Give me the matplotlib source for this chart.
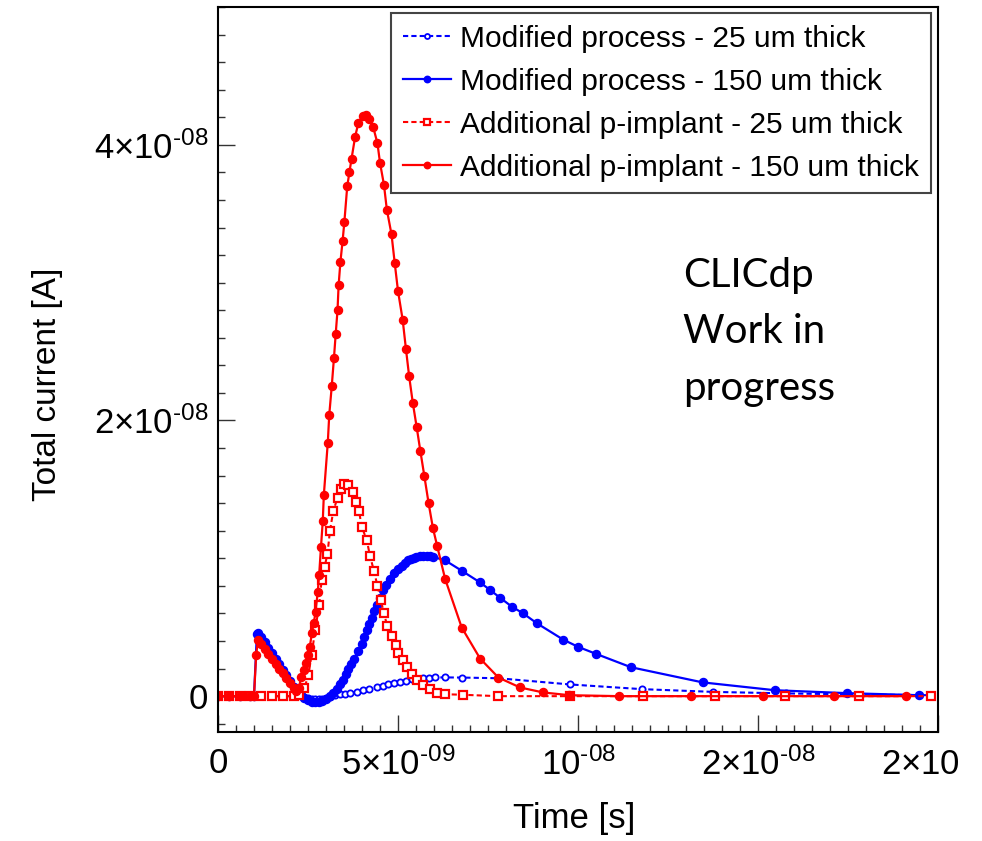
import matplotlib
matplotlib.use("Agg")
import matplotlib.pyplot as plt
from matplotlib.ticker import MultipleLocator, FixedLocator
from matplotlib.transforms import Bbox, TransformedBbox
import numpy as np

plt.rcParams['font.family'] = 'Liberation Sans'
plt.rcParams['mathtext.fontset'] = 'custom'
plt.rcParams['mathtext.rm'] = 'Liberation Sans'
plt.rcParams['mathtext.it'] = 'Liberation Sans:italic'

#
# data, time in ns, current in nA
#
t_mod25 = [0, 0.3, 0.6, 0.9, 1.2, 1.5, 1.8, 2.1, 2.3, 2.4, 2.5, 2.6, 2.7, 2.8, 2.9, 3.0,
           3.11, 3.25, 3.39, 3.53, 3.67, 3.85, 4.04, 4.2, 4.41, 4.57, 4.73, 4.9, 5.06, 5.22,
           5.38, 5.54, 5.70, 5.86, 6.03, 6.31, 6.77, 7.79, 9.78, 11.77, 13.76, 15.78, 17.8, 19.8]
i_mod25 = [0, 0, 0, 0, 0, 0, 0, 0, 0, -0.05, -0.12, -0.18, -0.22, -0.22, -0.18, -0.1,
           -0.05, 0.08, 0.15, 0.18, 0.22, 0.32, 0.43, 0.53, 0.67, 0.77, 0.87, 0.96, 1.04, 1.13,
           1.21, 1.28, 1.33, 1.35, 1.36, 1.36, 1.35, 1.3, 0.85, 0.51, 0.31, 0.2, 0.12, 0.07]

t_mod150 = [0, 0.3, 0.6, 0.9, 1.0, 1.08, 1.12, 1.2, 1.3, 1.4, 1.5, 1.6, 1.7, 1.8, 1.9, 2.0,
            2.1, 2.2, 2.3, 2.4, 2.5, 2.6, 2.7, 2.8, 2.9, 3.0, 3.1, 3.2, 3.3, 3.4, 3.48, 3.55,
            3.62, 3.7, 3.78, 3.88, 3.99, 4.06, 4.13, 4.2, 4.27, 4.34, 4.41, 4.5, 4.59, 4.68,
            4.78, 4.9, 5.01, 5.1, 5.2, 5.29, 5.35, 5.45, 5.5, 5.61, 5.7, 5.8, 5.9, 5.98, 6.31,
            6.77, 7.28, 7.56, 7.83, 8.16, 8.48, 8.85, 9.59, 10.01, 10.5, 11.47, 13.46, 15.47,
            17.46, 19.47]
i_mod150 = [0, 0, 0, 0, 0, 4.5, 4.6, 4.3, 3.9, 3.5, 3.1, 2.7, 2.3, 1.9, 1.5, 1.1,
            0.7, 0.35, 0.05, -0.15, -0.3, -0.4, -0.45, -0.45, -0.35, -0.2, 0.0, 0.25, 0.55, 0.85, 1.16, 1.6,
            2.0, 2.35, 2.7, 3.25, 3.8, 4.3, 4.8, 5.25, 5.7, 6.15, 6.6, 7.15, 7.7, 8.1,
            8.5, 8.9, 9.25, 9.45, 9.65, 9.85, 9.93, 10.05, 10.1, 10.17, 10.18, 10.17, 10.14, 10.1, 9.85,
            9.1, 8.25, 7.7, 7.15, 6.5, 6.0, 5.3, 4.1, 3.57, 3.07, 2.1, 1.0, 0.43,
            0.22, 0.07]

t_imp25 = [0, 0.3, 0.6, 0.9, 1.2, 1.5, 1.8, 2.1, 2.25, 2.4, 2.51, 2.6, 2.7, 2.81, 2.88, 2.96,
           3.04, 3.11, 3.2, 3.32, 3.42, 3.51, 3.62, 3.74, 3.83, 3.92, 3.99, 4.13, 4.22, 4.33,
           4.43, 4.52, 4.61, 4.70, 4.82, 4.94, 5.01, 5.13, 5.24, 5.38, 5.52, 5.70, 5.89, 6.07,
           6.31, 6.81, 7.79, 9.78, 11.8, 13.8, 15.76, 17.8, 19.8]
i_imp25 = [0, 0, 0, 0, 0, 0, 0, 0, 0.1, 0.6, 1.5, 3.0, 4.8, 6.6, 8.45, 9.4,
           10.3, 12.0, 13.4, 14.4, 15.0, 15.36, 15.3, 14.8, 14.1, 13.4, 12.3, 11.35, 10.2, 9.1,
           8.0, 7.0, 6.0, 5.1, 4.4, 3.7, 3.1, 2.66, 2.12, 1.64, 1.16, 0.8, 0.49, 0.24,
           0.14, 0.1, 0.0, 0.0, 0.0, 0.0, 0.0, 0.0, 0.0]

t_imp150 = [0, 0.3, 0.6, 0.9, 1.0, 1.06, 1.11, 1.2, 1.3, 1.4, 1.5, 1.6, 1.7, 1.8, 1.9, 2.0,
            2.1, 2.18, 2.25, 2.31, 2.38, 2.45, 2.5, 2.55, 2.61, 2.66, 2.71, 2.77, 2.81, 2.86,
            2.91, 2.94, 3.05, 3.09, 3.16, 3.22, 3.27, 3.32, 3.35, 3.4, 3.46, 3.51, 3.59, 3.65,
            3.71, 3.81, 3.90, 4.02, 4.11, 4.20, 4.31, 4.43, 4.50, 4.61, 4.69, 4.82, 4.91, 5.0,
            5.13, 5.22, 5.31, 5.41, 5.52, 5.62, 5.73, 5.85, 5.97, 6.09, 6.31, 6.77, 7.28, 7.79,
            8.39, 9.03, 9.76, 11.15, 13.13, 15.15, 17.1, 19.1]
i_imp150 = [0, 0, 0, 0, 0, 3.0, 4.06, 3.75, 3.4, 3.05, 2.7, 2.35, 2.0, 1.65, 1.3, 0.95,
            0.6, 0.35, 0.6, 1.4, 1.9, 2.4, 3.0, 3.6, 4.6, 5.3, 6.1, 7.56, 8.8, 10.8,
            12.7, 14.6, 18.4, 20.4, 22.5, 24.5, 26.3, 28.0, 29.8, 31.5, 33.0, 34.4, 37.0, 38.0,
            39.0, 40.6, 41.6, 42.1, 42.2, 41.9, 41.3, 40.1, 38.7, 37.1, 35.3, 33.5, 31.4, 29.4,
            27.3, 25.2, 23.2, 21.3, 19.5, 17.8, 16.0, 14.0, 12.2, 10.87, 8.5, 4.98, 2.73, 1.35,
            0.63, 0.27, 0.07, 0.0, 0.0, 0.0, 0.0, 0.0]

labels = ["Modified process - 25 um thick", "Modified process - 150 um thick",
          "Additional p-implant - 25 um thick", "Additional p-implant - 150 um thick"]

xtick_vals = [0, 5e-9, 1e-8, 1.5e-8, 2e-8]
xtick_labels = ["0", "5×10$^{\\text{-09}}$", "10$^{\\text{-08}}$", "2×10$^{\\text{-08}}$", "2×10$^{\\text{-08}}$"]
ytick_vals = [0, 2e-8, 4e-8]
ytick_labels = ["0", "2×10$^{\\text{-08}}$", "4×10$^{\\text{-08}}$"]

ns = 1e-9
fig = plt.figure(figsize=(9.82, 8.41), dpi=100)
ax = fig.add_axes([218/982, 1-732/841, 720/982, 725/841])

ax.plot(np.array(t_mod25)*ns, np.array(i_mod25)*ns, color='blue', lw=1.5, ls=(0, (2.5, 1.5)),
        marker='o', ms=4.5, mfc='white', mec='blue', mew=1.3, label=labels[0])
ax.plot(np.array(t_mod150)*ns, np.array(i_mod150)*ns, color='blue', lw=1.6, ls='-',
        marker='o', ms=5.8, mfc='blue', mec='blue', label=labels[1])
ax.plot(np.array(t_imp25)*ns, np.array(i_imp25)*ns, color='red', lw=1.5, ls=(0, (2.5, 1.5)),
        marker='s', ms=5.2, mfc='white', mec='red', mew=1.6, label=labels[2])
ax.plot(np.array(t_imp150)*ns, np.array(i_imp150)*ns, color='red', lw=1.6, ls='-',
        marker='o', ms=5.8, mfc='red', mec='red', label=labels[3])

ax.set_xlim(0, 2e-8)
ax.set_ylim(-2.6e-9, 5.0e-8)
ax.xaxis.set_major_locator(FixedLocator(xtick_vals))
ax.set_xticklabels(xtick_labels)
ax.xaxis.set_minor_locator(MultipleLocator(5e-10))
ax.yaxis.set_major_locator(FixedLocator(ytick_vals))
ax.set_yticklabels(ytick_labels)
ax.yaxis.set_minor_locator(MultipleLocator(2e-9))
ax.tick_params(which='both', direction='in', width=1, colors='#333333', labelcolor='black', labelsize=25)
ax.tick_params(which='major', length=12, pad=7)
ax.tick_params(axis='x', which='major', pad=11)
ax.tick_params(which='minor', length=5)
for s in ax.spines.values():
    s.set_linewidth(1.5)

# right-most label is cut off in the original
clip = TransformedBbox(Bbox([[0, 0], [960/982, 1]]), fig.transFigure)
lab = ax.get_xticklabels()[-1]
lab.set_clip_on(True)
lab.set_clip_box(clip)

ax.set_xlabel("Time [s]", fontsize=25)
ax.xaxis.set_label_coords(0.495, -0.097)
ax.set_ylabel("Total current [A]", fontsize=24)
ax.yaxis.set_label_coords(-0.215, 0.48)

leg = ax.legend(loc='upper right', bbox_to_anchor=(0.990, 0.992), borderaxespad=0, fancybox=False,
                fontsize=21.5, handlelength=1.6, handletextpad=0.3, borderpad=0.4,
                labelspacing=0.5, markerscale=0.8, framealpha=1)
leg.get_frame().set_edgecolor('#444444')
leg.get_frame().set_linewidth(1.5)

ax.text(0.646, 0.655, "CLICdp\nWork in\nprogress", transform=ax.transAxes, fontsize=29,
        family='Lato', va='top', ha='left', linespacing=1.64)

plt.savefig("out.png", dpi=100)
plt.close('all')
